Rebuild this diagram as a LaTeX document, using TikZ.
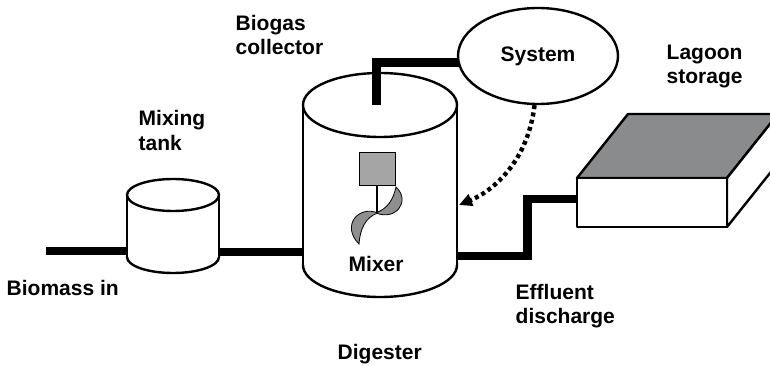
\documentclass[tikz,border=0pt]{standalone}
\usepackage{fontspec}
\setmainfont{Liberation Sans}
\usetikzlibrary{shapes.geometric,arrows.meta}
\definecolor{lidgray}{HTML}{8A8B8D}
\definecolor{motorgray}{HTML}{A5A5A5}
\definecolor{bladegray}{HTML}{8F8F8F}
\begin{document}
\begin{tikzpicture}[x=1pt,y=-1pt,
  outline/.style={line width=2.4pt,line join=round},
  pipe/.style={line width=8.5pt,line join=miter},
  lbl/.style={font=\bfseries\fontsize{21}{24.5}\selectfont,inner sep=0pt,anchor=base west,align=left},
]
\clip (0,0) rectangle (770,366);
\fill[white] (0,0) rectangle (770,366);

% pipe end points
\coordinate (feed)   at (46,251);
\coordinate (tankL)  at (127,251);
\coordinate (tankR)  at (219,252);
\coordinate (digL)   at (303,252);
\coordinate (digR)   at (457,256);
\coordinate (lagL)   at (577,199);
\coordinate (digTop) at (376.5,105);
\coordinate (sysIn)  at (462,62.5);
\coordinate (digIn)  at (459,205);
\coordinate (hub)    at (377,213);

% feed and transfer pipes
\draw[pipe] (feed) -- (tankL);
\draw[pipe] (tankR) -- (digL);
\draw[pipe] (digR) -- (527.5,256) |- (lagL);

% mixing tank
\filldraw[outline,fill=white] (173,257) ellipse [x radius=46,y radius=16];
\fill[white] (127,195) rectangle (219,257);
\draw[outline] (127,195) -- (127,257) (219,195) -- (219,257);
\filldraw[outline,fill=white] (173,195) ellipse [x radius=46,y radius=16];
\node (tank) at (173,226) {};

% digester
\filldraw[outline,fill=white] (380,265) ellipse [x radius=77,y radius=32];
\fill[white] (303,105) rectangle (457,265);
\draw[outline] (303,105) -- (303,265) (457,105) -- (457,265);
\filldraw[outline,fill=white] (380,105) ellipse [x radius=77,y radius=32];
\node (dig) at (380,185) {};

% biogas line to the gas system
\draw[pipe] (digTop) |- (sysIn);
\node[draw,outline,ellipse,fill=white,minimum width=160pt,minimum height=96pt,inner sep=0pt,
      font=\bfseries\fontsize{21}{24.5}\selectfont] (sys) at (538,56) {System};

% return from the gas system
\draw[line width=4.4pt,dash pattern=on 4pt off 3.4pt,-{Triangle[length=13pt,width=12pt]}]
  (sys.266) .. controls (528,160) and (495,190) .. (digIn);

% mixer: motor, shaft, blades
\node[draw,line width=1pt,fill=motorgray,minimum width=36pt,minimum height=32pt,inner sep=0pt] (motor) at (377,169) {};
\draw[line width=2.4pt] (motor.south) -- (hub);
\filldraw[fill=bladegray,line width=0.8pt]
  (376,213) .. controls (396,221) and (411,201) .. (396,187)
            .. controls (393,200) and (388,208) .. cycle;
\filldraw[fill=bladegray,line width=0.8pt]
  (378,213) .. controls (358,205) and (341,226) .. (359,244)
            .. controls (360,230) and (365,217) .. cycle;

% lagoon
\filldraw[outline,fill=lidgray] (577,178) -- (628,114) -- (778,114) -- (727,178) -- cycle;
\filldraw[outline,fill=white] (727,178) -- (778,114) -- (778,163) -- (727,227) -- cycle;
\filldraw[outline,fill=white] (577,178) rectangle (727,227);
\node (lagoon) at (652,202) {};

% labels (two-line labels are placed by their second baseline)
\node[lbl] (tBiogas)   at (235.5,55)  {Biogas\\collector};
\node[lbl] (tLagoon)   at (666.5,84)  {Lagoon\\storage};
\node[lbl] (tMixing)   at (138.5,150) {Mixing\\tank};
\node[lbl] (tBiomass)  at (6.5,295)   {Biomass in};
\node[lbl] (tEffluent) at (515.5,323.5) {Effluent\\discharge};
\node[lbl] (tDigester) at (337.5,359) {Digester};
\node[lbl] (tMixer)    at (348.5,271) {Mixer};
\end{tikzpicture}
\end{document}
